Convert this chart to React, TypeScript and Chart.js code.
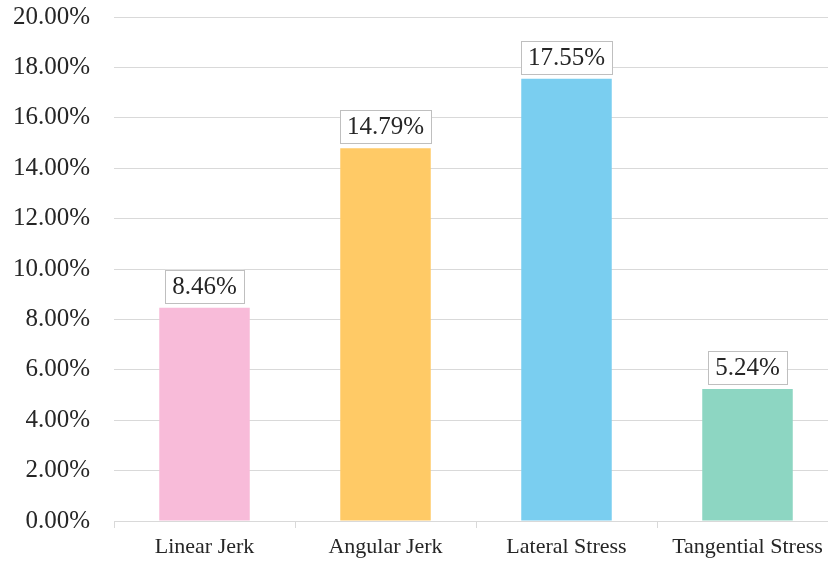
import React, { useEffect, useRef } from "react";
import { Chart, registerables } from "chart.js";

Chart.register(...registerables);

const categories = ["Linear Jerk", "Angular Jerk", "Lateral Stress", "Tangential Stress"];
const shares = [8.46, 14.79, 17.55, 5.24];
const barColors = ["#F8BBD9", "#FFCA66", "#7ACEF0", "#8DD6C2"];
const yMin = 0;
const yMax = 20;
const yStep = 2;

const FONT = "'Liberation Serif', 'Times New Roman', serif";
const TEXT = "#262626";
const GRID = "#D9D9D9";

// Boxed value labels above each bar
const valueBoxes = {
  id: "valueBoxes",
  afterDatasetsDraw(chart: Chart) {
    const { ctx } = chart;
    const meta = chart.getDatasetMeta(0);
    const data = chart.data.datasets[0].data as number[];
    ctx.save();
    ctx.font = `25px ${FONT}`;
    ctx.textAlign = "center";
    ctx.textBaseline = "middle";
    meta.data.forEach((el: any, i: number) => {
      const text = data[i].toFixed(2) + "%";
      const w = ctx.measureText(text).width + 14;
      const h = 33;
      const bottom = el.y - 5;
      const left = el.x - w / 2;
      ctx.fillStyle = "#FFFFFF";
      ctx.fillRect(left, bottom - h, w, h);
      ctx.strokeStyle = "#BFBFBF";
      ctx.lineWidth = 1;
      ctx.strokeRect(Math.round(left) + 0.5, Math.round(bottom - h) + 0.5, Math.round(w), h);
      ctx.fillStyle = TEXT;
      ctx.fillText(text, el.x, bottom - h / 2 + 1);
    });
    ctx.restore();
  },
};

export default function App() {
  const ref = useRef<HTMLCanvasElement | null>(null);

  useEffect(() => {
    if (!ref.current) return;
    const chart = new Chart(ref.current, {
      type: "bar",
      data: {
        labels: categories,
        datasets: [
          {
            data: shares,
            backgroundColor: barColors,
            borderWidth: 0,
            barPercentage: 0.5,
            categoryPercentage: 1,
          },
        ],
      },
      options: {
        animation: false,
        responsive: false,
        layout: { padding: { top: 17, right: 2, left: 0, bottom: 0 } },
        plugins: {
          legend: { display: false },
          tooltip: { enabled: false },
        },
        scales: {
          x: {
            grid: {
              offset: true,
              drawOnChartArea: false,
              drawTicks: true,
              tickLength: 7,
              color: GRID,
            },
            border: { color: GRID, width: 1 },
            ticks: {
              color: TEXT,
              font: { family: FONT, size: 22 },
              padding: 6,
              maxRotation: 0,
            },
            afterFit(scale: any) {
              scale.height = 41;
            },
          },
          y: {
            min: yMin,
            max: yMax,
            grid: { color: GRID, drawTicks: false },
            border: { display: false },
            ticks: {
              stepSize: yStep,
              color: TEXT,
              font: { family: FONT, size: 25 },
              padding: 24,
              callback: (v: any) => Number(v).toFixed(2) + "%",
            },
            afterFit(scale: any) {
              scale.width = 114;
              scale.paddingTop = 0;
              scale.paddingBottom = 0;
            },
          },
        },
      },
      plugins: [valueBoxes],
    });
    return () => chart.destroy();
  }, []);

  return (
    <div
      style={{
        position: "absolute",
        left: 0,
        top: 0,
        width: 828,
        height: 562,
        overflow: "hidden",
        background: "#FFFFFF",
      }}
    >
      <canvas ref={ref} width={840} height={562} style={{ display: "block" }} />
    </div>
  );
}
